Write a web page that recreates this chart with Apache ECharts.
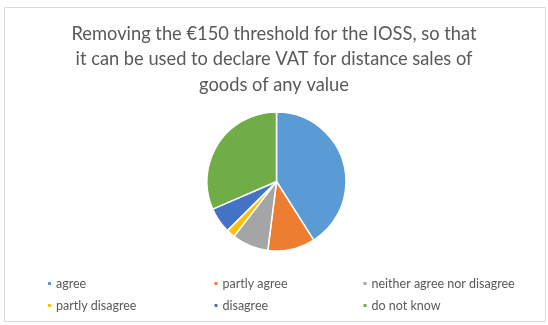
<!DOCTYPE html>
<html>
<head>
<meta charset="utf-8">
<style>
  html, body { margin: 0; padding: 0; background: #fff; }
  #chart { width: 548px; height: 325px; }
</style>
<script src="https://cdn.jsdelivr.net/npm/echarts@6/dist/echarts.min.js"></script>
</head>
<body>
<div id="chart"></div>
<script>
var titleText = 'Removing the €150 threshold for the IOSS, so that\nit can be used to declare VAT for distance sales of\ngoods of any value';
var categories = ['agree', 'partly agree', 'neither agree nor disagree', 'partly disagree', 'disagree', 'do not know'];
var values = [41, 11, 8.5, 2, 6, 31.5];
var colors = ['#5B9BD5', '#ED7D31', '#A5A5A5', '#FFC000', '#4472C4', '#70AD47'];

// legend slots (excel style grid: 3 columns, 2 rows)
var legendLeft = [41, 207.5, 356.5];
var legendTop = [272, 294];

var chart = echarts.init(document.getElementById('chart'));

var legends = categories.map(function (name, i) {
  return {
    data: [name],
    left: legendLeft[i % 3],
    top: legendTop[Math.floor(i / 3)],
    orient: 'horizontal',
    icon: 'rect',
    itemWidth: 5,
    itemHeight: 5,
    itemGap: 0,
    selectedMode: false,
    textStyle: {
      color: '#595959',
      fontSize: 12.5,
      fontFamily: 'Lato',
      padding: [0, 0, 0, -1]
    }
  }
});

chart.setOption({
  backgroundColor: '#fff',
  color: colors,
  animation: false,
  title: {
    text: titleText,
    left: 'center',
    top: 16,
    textStyle: {
      color: '#595959',
      fontSize: 18.3,
      fontWeight: 'normal',
      fontFamily: 'Lato',
      lineHeight: 25.5
    }
  },
  graphic: [{
    type: 'rect',
    shape: { x: 4.5, y: 7.5, width: 541, height: 314 },
    style: { fill: 'none', stroke: '#D9D9D9', lineWidth: 1 },
    silent: true
  }],
  legend: legends,
  series: [{
    type: 'pie',
    center: [276.5, 181.5],
    radius: 69.5,
    startAngle: 90,
    clockwise: true,
    label: { show: false },
    labelLine: { show: false },
    itemStyle: { borderColor: '#fff', borderWidth: 1.5 },
    emphasis: { disabled: true },
    data: categories.map(function (name, i) {
      return { name: name, value: values[i] };
    })
  }]
});
</script>
</body>
</html>
